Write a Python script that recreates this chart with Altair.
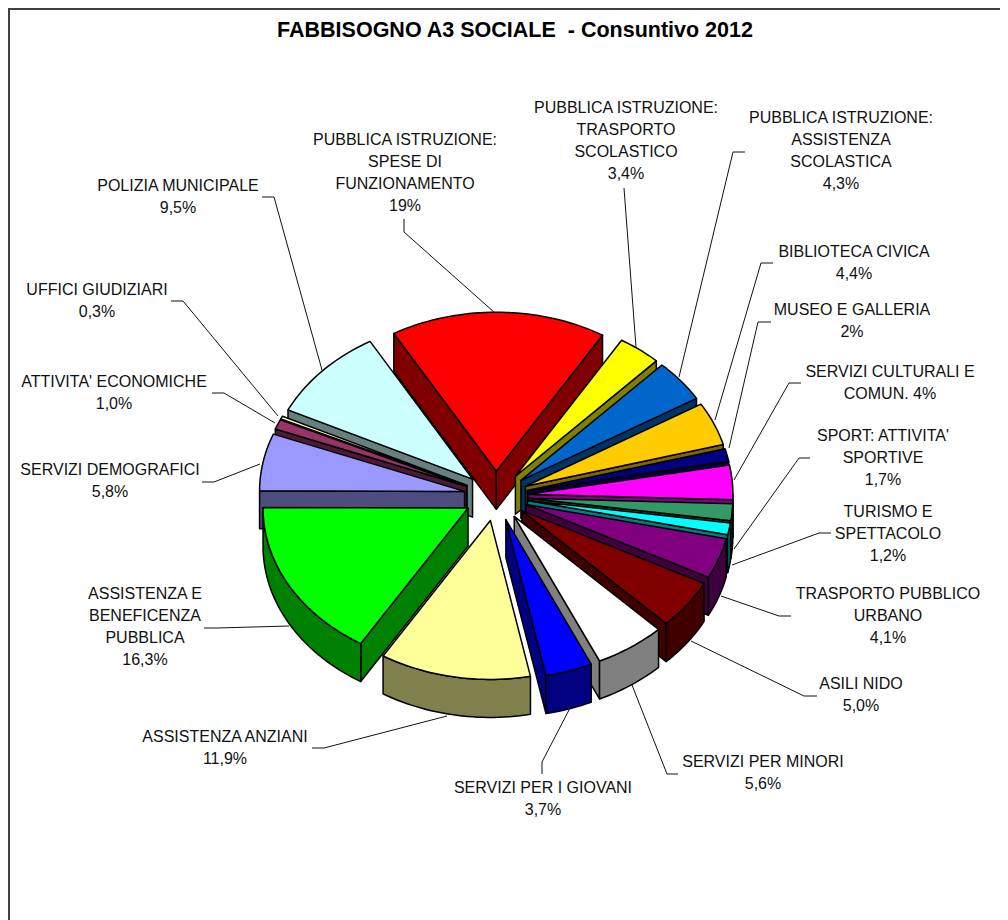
import math
import altair as alt

# --- chart values, clockwise from the top slice ---
labels = [
    "PUBBLICA ISTRUZIONE:\nSPESE DI\nFUNZIONAMENTO\n19%",
    "PUBBLICA ISTRUZIONE:\nTRASPORTO\nSCOLASTICO\n3,4%",
    "PUBBLICA ISTRUZIONE:\nASSISTENZA\nSCOLASTICA\n4,3%",
    "BIBLIOTECA CIVICA\n4,4%",
    "MUSEO E GALLERIA\n2%",
    "SERVIZI CULTURALI E\nCOMUN. 4%",
    "SPORT: ATTIVITA'\nSPORTIVE\n1,7%",
    "TURISMO E\nSPETTACOLO\n1,2%",
    "TRASPORTO PUBBLICO\nURBANO\n4,1%",
    "ASILI NIDO\n5,0%",
    "SERVIZI PER MINORI\n5,6%",
    "SERVIZI PER I GIOVANI\n3,7%",
    "ASSISTENZA ANZIANI\n11,9%",
    "ASSISTENZA E\nBENEFICENZA\nPUBBLICA\n16,3%",
    "SERVIZI DEMOGRAFICI\n5,8%",
    "ATTIVITA' ECONOMICHE\n1,0%",
    "UFFICI GIUDIZIARI\n0,3%",
    "POLIZIA MUNICIPALE\n9,5%",
]
# drawn share of each slice, as seen in the picture (three printed labels do not match their slice size)
shares = [17.0, 3.4, 4.3, 4.4, 1.3, 3.5, 1.7, 1.2, 4.1, 5.0, 5.6, 3.7, 11.9, 16.3, 5.8, 1.0, 0.3, 9.5]
top_colors = ["#FF0000", "#FFFF00", "#0066CC", "#FFCC00", "#000080", "#FF00FF", "#339966", "#00FFFF", "#800080",
              "#800000", "#FFFFFF", "#0000FF", "#FFFF99", "#00FF00", "#9999FF", "#993366", "#FFFFCC", "#CCFFFF"]
wall_colors = ["#800000", "#808000", "#003366", "#806600", "#000040", "#800080", "#1A4D33", "#008080", "#400040",
               "#400000", "#808080", "#000080", "#80804D", "#008000", "#4D4D80", "#4D1A33", "#808066", "#668080"]

# --- label placement ---
label_x = [405, 626, 841, 854, 852, 890, 883, 888, 888, 861, 763, 543, 225, 145, 110, 114, 97, 178]
label_y = [145, 113, 123, 257, 315, 377, 441, 517, 599, 689, 767, 793, 742, 599, 475, 387, 295, 191]
leaders = [
    [(404, 219), (404, 232), (495, 313)],
    [(624, 188), (636, 347)],
    [(745, 152), (733, 152), (679, 377)],
    [(773, 263), (761, 263), (715, 420)],
    [(771, 322), (758, 322), (729, 448)],
    [(801, 383), (789, 383), (734, 480)],
    [(810, 458), (799, 458), (734, 549)],
    [(831, 533), (819, 533), (732, 565)],
    [(791, 616), (779, 616), (721, 596)],
    [(817, 696), (804, 696), (691, 641)],
    [(678, 774), (667, 774), (632, 685)],
    [(542, 774), (542, 762), (570, 708)],
    [(312, 748), (324, 748), (447, 716)],
    [(204, 628), (217, 628), (289, 626)],
    [(202, 482), (214, 482), (260, 464)],
    [(212, 393), (224, 393), (275, 423)],
    [(171, 301), (183, 301), (278, 416)],
    [(262, 197), (274, 197), (322, 370)],
]

# --- pie geometry ---
CX, CY, RX, RY, EXPLODE, DEPTH, START = 496, 496, 205, 159, 32, 38, -30


def feature(points, fill):
    ring = [list(p) for p in points] + [list(points[0])]
    return {"type": "Feature", "properties": {"fill": fill},
            "geometry": {"type": "Polygon", "coordinates": [ring]}}


def on_rim(apex, deg, drop=0):
    t = math.radians(deg)
    return (apex[0] + RX * math.sin(t), apex[1] - RY * math.cos(t) + drop)


def arc(apex, a0, a1, drop=0):
    n = max(2, int(abs(a1 - a0) / 1.5) + 1)
    return [on_rim(apex, a0 + (a1 - a0) * i / n, drop) for i in range(n + 1)]


slices = []
angle = START
scale = 360 / sum(shares)
for i, share in enumerate(shares):
    a0, a1 = angle, angle + share * scale
    angle = a1
    mid = math.radians((a0 + a1) / 2)
    apex = (CX + EXPLODE * math.sin(mid), CY - EXPLODE * RY / RX * math.cos(mid))
    parts = []
    low = (apex[0], apex[1] + DEPTH)
    if math.sin(math.radians(a0)) < 0:
        parts.append(feature([apex, on_rim(apex, a0), on_rim(apex, a0, DEPTH), low], wall_colors[i]))
    if math.sin(math.radians(a1)) > 0:
        parts.append(feature([apex, on_rim(apex, a1), on_rim(apex, a1, DEPTH), low], wall_colors[i]))
    w0, w1 = max(a0, 90), min(a1, 270)
    if w1 > w0:
        parts.append(feature(arc(apex, w0, w1) + arc(apex, w1, w0, DEPTH), wall_colors[i]))
    parts.append(feature([apex] + arc(apex, a0, a1), top_colors[i]))
    slices.append((-math.cos(mid), parts))

pie_features = [f for _, parts in sorted(slices, key=lambda s: s[0]) for f in parts]
leader_features = [{"type": "Feature", "properties": {},
                    "geometry": {"type": "LineString", "coordinates": [list(p) for p in line]}}
                   for line in leaders]
frame_features = [{"type": "Feature", "properties": {},
                   "geometry": {"type": "LineString",
                                "coordinates": [[9, 930], [9, 9], [1020, 9]]}}]
label_rows = [{"label": t, "px": x, "py": y} for t, x, y in zip(labels, label_x, label_y)]

proj = dict(type="identity", scale=1, translate=[-8, -8])

frame = alt.Chart(alt.Data(values=frame_features)).mark_geoshape(
    filled=False, stroke="#404040", strokeWidth=2).project(**proj)
lines = alt.Chart(alt.Data(values=leader_features)).mark_geoshape(
    filled=False, stroke="#111111", strokeWidth=1).project(**proj)
pie = alt.Chart(alt.Data(values=pie_features)).mark_geoshape(
    stroke="#000000", strokeWidth=1.5, strokeJoin="round").encode(
    fill=alt.Fill("properties.fill:N", scale=None, legend=None)).project(**proj)
text = alt.Chart(alt.Data(values=label_rows)).mark_text(
    font="Liberation Sans", fontSize=16, color="#111111", align="center", baseline="alphabetic",
    lineBreak="\n", lineHeight=22).encode(
    longitude="px:Q", latitude="py:Q", text="label:N").project(**proj)

chart = alt.layer(frame, lines, pie, text).properties(
    width=992, height=912, padding=0,
    autosize=alt.AutoSizeParams(type="none"),
    background="white",
    title=alt.TitleParams(
        "FABBISOGNO A3 SOCIALE\u00a0\u00a0- Consuntivo 2012", font="Liberation Sans", fontSize=21.5, fontWeight="bold",
        color="#000000", anchor="middle", frame="group", dx=11, dy=50, baseline="alphabetic", offset=0),
).configure_view(stroke=None)

chart.save("out.html", embed_options={"renderer": "svg", "actions": False})
